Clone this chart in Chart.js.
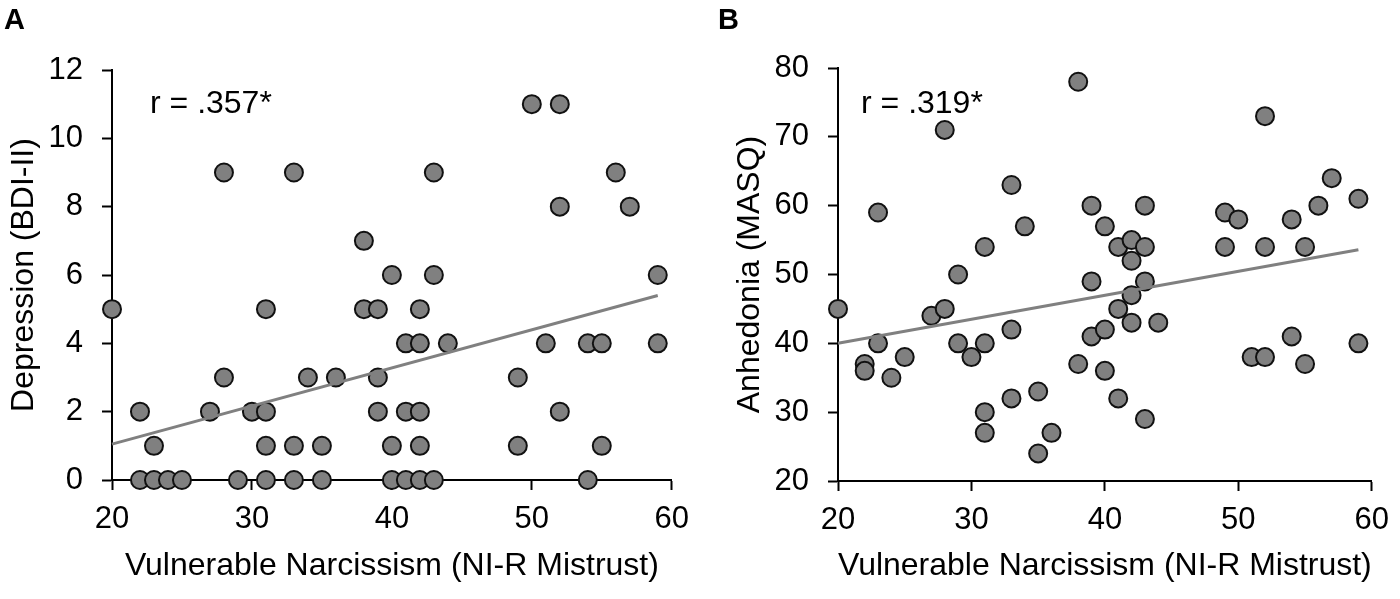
<!DOCTYPE html>
<html>
<head>
<meta charset="utf-8">
<script src="https://cdn.jsdelivr.net/npm/chart.js@4.4.1/dist/chart.umd.min.js"></script>
<style>
  body { margin: 0; background: #fff; }
  #wrap { position: relative; width: 1400px; height: 599px; background: #fff; font-family: "Liberation Sans", Arial, sans-serif; }
  .panel { position: absolute; top: 0; width: 700px; height: 599px; }
  .tag { position: absolute; font-size: 29px; line-height: 29px; font-weight: bold; color: #000; }
  .rval { position: absolute; font-size: 32px; line-height: 32px; color: #000; white-space: nowrap; }
</style>
</head>
<body>
<div id="wrap">
  <div class="panel" style="left:0"><canvas id="depChart"></canvas></div>
  <div class="panel" style="left:700px"><canvas id="anhChart"></canvas></div>
  <div class="tag" style="left:4px; top:5px">A</div>
  <div class="tag" style="left:718px; top:5px">B</div>
  <div class="rval" style="left:150px; top:86px">r = .357*</div>
  <div class="rval" style="left:861px; top:86px">r = .319*</div>
</div>
<script>
// panel A: mistrust vs depression (BDI-II)
const depX = [20,22,22,23,23,24,25,27,28,28,29,30,31,31,31,31,33,33,33,34,35,35,36,38,38,39,39,39,40,40,40,41,41,41,42,42,42,42,42,43,43,43,44,49,49,50,51,52,52,52,54,54,55,55,56,57,59,59];
const depY = [5,2,0,1,0,0,0,2,9,3,0,2,5,2,1,0,9,1,0,3,1,0,3,7,5,5,3,2,6,1,0,4,2,0,5,4,2,1,0,9,6,0,4,3,1,11,4,11,8,2,4,0,4,1,9,8,6,4];
const depTrendX = [20, 59];
const depTrendY = [1.05, 5.4];

// panel B: mistrust vs anhedonia (MASQ)
const anhX = [20,22,22,23,23,24,25,27,28,28,29,29,30,31,31,31,31,33,33,33,34,35,35,36,38,38,39,39,39,40,40,40,41,41,41,42,42,42,42,43,43,43,43,44,49,49,50,51,52,52,52,54,54,55,55,56,57,59,59];
const anhY = [45,37,36,59,40,35,38,44,71,45,50,40,38,54,40,30,27,63,42,32,57,33,24,27,78,37,60,49,41,57,42,36,54,45,32,55,52,47,43,60,54,49,29,43,59,54,58,38,73,54,38,58,41,54,37,60,64,61,40];
const anhTrendX = [20, 59];
const anhTrendY = [40.0, 53.6];

const xTicks = [20, 30, 40, 50, 60];
const depTicks = [0, 2, 4, 6, 8, 10, 12];
const anhTicks = [20, 30, 40, 50, 60, 70, 80];

const xTitle = 'Vulnerable Narcissism (NI-R Mistrust)';
const FONT = '"Liberation Sans", Arial, sans-serif';

function toPoints(xs, ys) {
  return xs.map((x, i) => ({ x: x, y: ys[i] }));
}

function axisLook() {
  return {
    grid: { display: true, drawOnChartArea: false, drawTicks: true, tickLength: 10, tickColor: '#000', tickWidth: 2 },
    border: { display: true, color: '#000', width: 2 }
  };
}

function makeChart(id, xs, ys, trendX, trendY, yTicks, yTitle, pad, xHeight) {
  const ctx = document.getElementById(id).getContext('2d');
  return new Chart(ctx, {
    type: 'scatter',
    data: {
      datasets: [
        {
          type: 'line',
          data: toPoints(trendX, trendY),
          borderColor: '#808080',
          borderWidth: 3,
          pointRadius: 0,
          fill: false,
          clip: false
        },
        {
          data: toPoints(xs, ys),
          backgroundColor: '#808080',
          borderColor: '#111',
          borderWidth: 2,
          pointRadius: 9,
          clip: false
        }
      ]
    },
    options: {
      responsive: true,
      maintainAspectRatio: false,
      animation: false,
      layout: { padding: pad },
      plugins: { legend: { display: false }, tooltip: { enabled: false } },
      scales: {
        x: Object.assign(axisLook(), {
          type: 'linear',
          min: xTicks[0],
          max: xTicks[xTicks.length - 1],
          afterBuildTicks: (s) => { s.ticks = xTicks.map(v => ({ value: v })); },
          afterFit: (s) => { s.height = xHeight; },
          ticks: { color: '#000', padding: 11, font: { family: FONT, size: 31 } },
          title: { display: true, text: xTitle, color: '#000', padding: { top: 0, bottom: 14 }, font: { family: FONT, size: 32 } }
        }),
        y: Object.assign(axisLook(), {
          type: 'linear',
          min: yTicks[0],
          max: yTicks[yTicks.length - 1],
          afterBuildTicks: (s) => { s.ticks = yTicks.map(v => ({ value: v })); },
          afterFit: (s) => { s.width = 112; },
          ticks: { color: '#000', padding: 19, font: { family: FONT, size: 31 } },
          title: { display: true, text: yTitle, color: '#000', padding: { top: 5, bottom: 0 }, font: { family: FONT, size: 32 } }
        })
      }
    }
  });
}

makeChart('depChart', depX, depY, depTrendX, depTrendY, depTicks, 'Depression (BDI-II)',
  { left: 0, right: 28, top: 70, bottom: 0 }, 119);
makeChart('anhChart', anhX, anhY, anhTrendX, anhTrendY, anhTicks, 'Anhedonia (MASQ)',
  { left: 26, right: 22, top: 68, bottom: 0 }, 118);
</script>
</body>
</html>
